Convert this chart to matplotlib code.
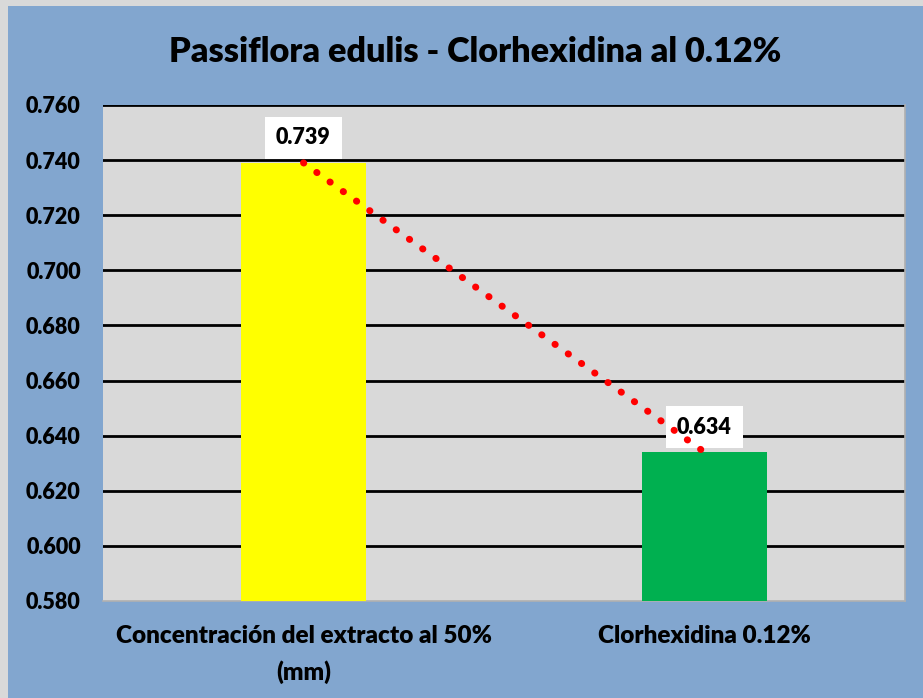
import matplotlib
matplotlib.use('Agg')
import matplotlib.pyplot as plt
from matplotlib.patches import Rectangle

# datos del grafico
categorias = ['Concentración del extracto al 50%\n(mm)', 'Clorhexidina 0.12%']
valores = [0.739, 0.634]
etiquetas = ['0.739', '0.634']
colores = ['#FFFF00', '#00B050']
ticks_y = [0.580, 0.600, 0.620, 0.640, 0.660, 0.680, 0.700, 0.720, 0.740, 0.760]
titulo = 'Passiflora edulis - Clorhexidina al 0.12%'

plt.rcParams['font.family'] = ['Lato', 'DejaVu Sans']
peso = 'heavy'

fig = plt.figure(figsize=(9.23, 6.98), dpi=100)
fig.patch.set_facecolor('#82A6CF')
# borde gris arriba e izquierda
fig.patches.append(Rectangle((0, 0), 8 / 923, 1, transform=fig.transFigure,
                             facecolor='#D9D9D9', edgecolor='none', zorder=-1))
fig.patches.append(Rectangle((0, 1 - 6 / 698), 1, 6 / 698, transform=fig.transFigure,
                             facecolor='#D9D9D9', edgecolor='none', zorder=-1))

ax = fig.add_axes([103 / 923, 97 / 698, 802 / 923, 496 / 698])
ax.set_facecolor('#D9D9D9')

x = range(len(categorias))
ax.bar(x, valores, width=0.31, color=colores, zorder=3)
# linea de tendencia punteada
ax.plot(x, valores, color='#FF0000', linewidth=5.0, linestyle=(0, (0.05, 2.3)),
        dash_capstyle='round', zorder=5)

ax.set_xlim(-0.5, 1.5)
ax.set_ylim(0.580, 0.760)
ax.set_yticks(ticks_y)
ax.set_yticklabels([f'{t:.3f}' for t in ticks_y], fontsize=15.5, fontweight=peso)
ax.set_xticks(list(x))
ax.set_xticklabels(categorias, fontsize=17.5, fontweight=peso, linespacing=1.68)
ax.tick_params(axis='y', length=0, pad=16)
ax.tick_params(axis='x', length=0, pad=17.5)

for t in ticks_y[1:]:
    ax.axhline(t, color='black', linewidth=2, zorder=1)

for s in ['left', 'top']:
    ax.spines[s].set_visible(False)
for s in ['bottom', 'right']:
    ax.spines[s].set_color('#B0B0B0')
    ax.spines[s].set_linewidth(1.2)

for xi, v, lab in zip(x, valores, etiquetas):
    ax.annotate(lab, (xi, v), xytext=(0, 18), textcoords='offset points',
                ha='center', va='center', fontsize=15.5, fontweight=peso, zorder=4,
                bbox=dict(boxstyle='square,pad=0.5', facecolor='white', edgecolor='none'))

fig.text(475 / 923, 646 / 698, titulo, ha='center', va='center',
         fontsize=24.7, fontweight=peso)

fig.savefig('out.png', dpi=100, facecolor=fig.get_facecolor())
